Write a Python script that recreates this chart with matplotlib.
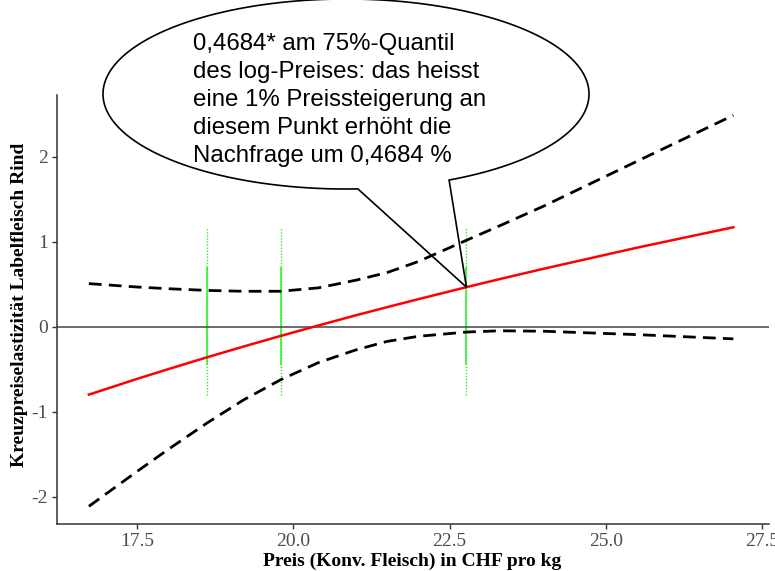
import numpy as np
import matplotlib
matplotlib.use("Agg")
import matplotlib.pyplot as plt
from matplotlib.patches import Polygon

# Price grid (CHF per kg) and the estimated cross-price elasticity with its band
price = [16.73, 17.5, 18.0, 18.62, 19.2, 19.8, 20.4, 21.0, 21.5, 22.0,
         22.77, 23.3, 24.0, 25.5, 27.04]
elasticity = [-0.796, -0.611, -0.496, -0.357, -0.231, -0.105, 0.017, 0.137,
              0.233, 0.327, 0.4684, 0.563, 0.684, 0.933, 1.173]
ci_upper = [0.51, 0.47, 0.45, 0.43, 0.42, 0.42, 0.46, 0.55, 0.64, 0.77,
            1.02, 1.19, 1.42, 1.95, 2.49]
ci_lower = [-2.11, -1.70, -1.44, -1.13, -0.86, -0.62, -0.42, -0.27, -0.17,
            -0.11, -0.06, -0.045, -0.05, -0.09, -0.14]

# Price quantiles (25%, 50%, 75%) marked as vertical guides
quantile_price = [18.62, 19.80, 22.77]
guide_range = [-0.80, 1.18]
guide_core = [-0.45, 0.70]

x_ticks = [17.5, 20.0, 22.5, 25.0, 27.5]
y_ticks = [-2, -1, 0, 1, 2]

callout_text = ("0,4684* am 75%-Quantil\n"
                "des log-Preises: das heisst\n"
                "eine 1% Preissteigerung an\n"
                "diesem Punkt erhöht die\n"
                "Nachfrage um 0,4684 %")
callout_point = (22.77, 0.4684)

W, H = 775, 571
fig = plt.figure(figsize=(W / 100, H / 100), dpi=100)

# axes box in pixel units (left, top, right, bottom measured from top-left)
L, T, R, B = 57, 95, 769, 524
ax = fig.add_axes([L / W, (H - B) / H, (R - L) / W, (B - T) / H])
ax.set_xlim(16.22, 27.61)
ax.set_ylim(-2.318, 2.729)

serif = ["Liberation Serif", "DejaVu Serif"]

for xq in quantile_price:
    ax.vlines(xq, guide_range[0], guide_range[1], colors="#2af02a",
              linestyles=(0, (1, 1.2)), linewidth=1.0, zorder=1)
    ax.vlines(xq, guide_core[0], guide_core[1], colors="#2af02a",
              linewidth=1.1, zorder=1)

ax.axhline(0, color="#444444", linewidth=1.1, zorder=2)

ax.plot(price, ci_upper, color="black", linewidth=2.0,
        linestyle=(0, (4.6, 2.6)), dash_capstyle="butt", zorder=3)
ax.plot(price, ci_lower, color="black", linewidth=2.0,
        linestyle=(0, (4.6, 2.6)), dash_capstyle="butt", zorder=3)
ax.plot(price, elasticity, color="#ff0000", linewidth=1.8, zorder=4)

for side in ("top", "right"):
    ax.spines[side].set_visible(False)
for side in ("left", "bottom"):
    ax.spines[side].set_color("#333333")
    ax.spines[side].set_linewidth(1.1)

ax.set_xticks(x_ticks)
ax.set_xticklabels([f"{v:.1f}" for v in x_ticks])
ax.set_yticks(y_ticks)
ax.set_yticklabels([str(v) for v in y_ticks])
ax.tick_params(axis="both", colors="#333333", labelcolor="#4d4d4d",
               length=3.5, width=1.0, labelsize=14, pad=3)
for lab in ax.get_xticklabels() + ax.get_yticklabels():
    lab.set_family(serif)

fig.text(412 / W, 1 - 561 / H, "Preis (Konv. Fleisch) in CHF pro kg",
         ha="center", va="center", fontsize=14, fontweight="bold",
         family=serif)
fig.text(20 / W, 1 - 305 / H, "Kreuzpreiselastizität Labelfleisch Rind",
         ha="center", va="center", rotation=90, fontsize=14,
         fontweight="bold", family=serif)

# speech-bubble callout pointing at the 75%-quantile estimate
cx, cy, a, b = 346.0, 94.0, 243.0, 95.0
t_left, t_right = np.deg2rad(87.2), np.deg2rad(64.9 + 360)
t = np.linspace(t_left, t_right, 400)
ex = cx + a * np.cos(t)
ey = cy + b * np.sin(t)
tip_disp = ax.transData.transform(callout_point)
tip_px = (tip_disp[0], H - tip_disp[1])
pts_px = np.column_stack([np.r_[ex, tip_px[0]], np.r_[ey, tip_px[1]]])
pts_fig = np.column_stack([pts_px[:, 0] / W, 1 - pts_px[:, 1] / H])
bubble = Polygon(pts_fig, closed=True, fill=False, edgecolor="black",
                 linewidth=1.2, transform=fig.transFigure, clip_on=False,
                 joinstyle="miter")
fig.add_artist(bubble)

fig.text(193 / W, 1 - 33 / H, callout_text, ha="left", va="top",
         fontsize=17.3, family=["Liberation Sans", "DejaVu Sans"],
         linespacing=1.36, color="black")

fig.savefig("out.png", dpi=100)
